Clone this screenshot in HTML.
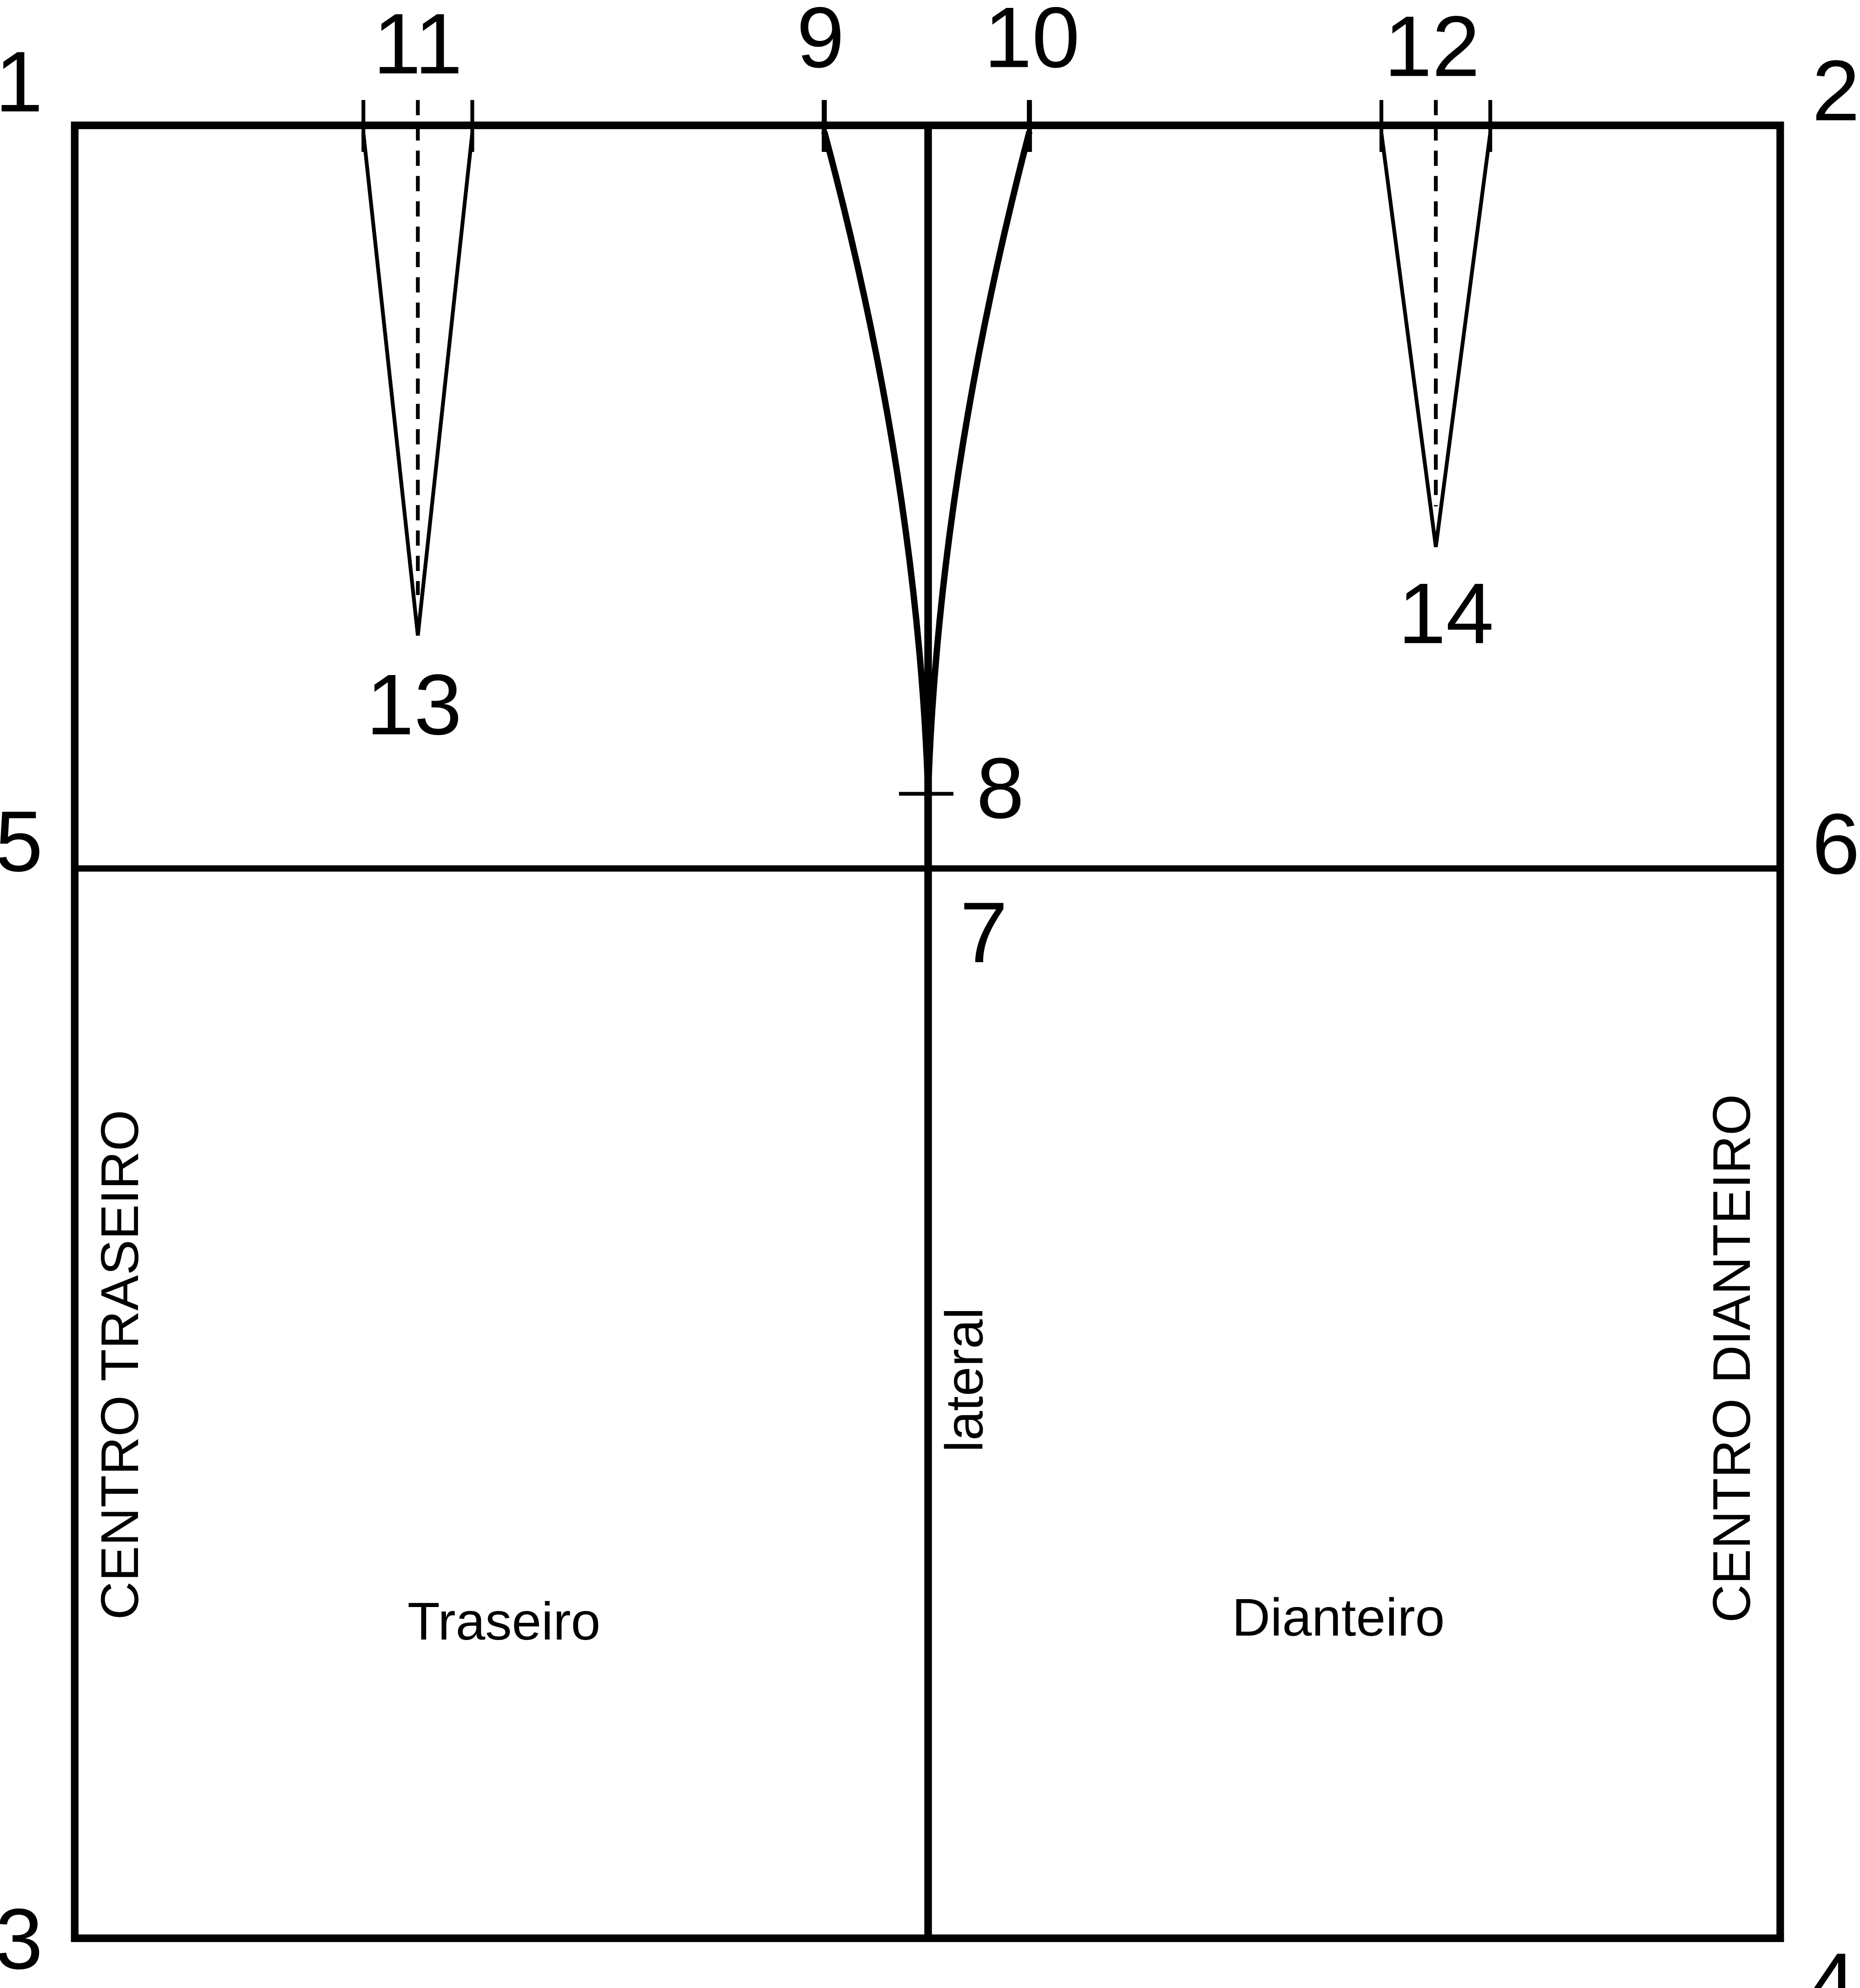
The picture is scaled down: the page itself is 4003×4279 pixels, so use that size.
<!DOCTYPE html>
<html><head><meta charset="utf-8"><style>html,body{margin:0;padding:0;background:#fff}svg{display:block}text{font-family:"Liberation Sans","DejaVu Sans",sans-serif;fill:#000}</style></head>
<body>
<svg width="4003" height="4279" viewBox="0 0 1469 1570.3" xmlns="http://www.w3.org/2000/svg">
<rect x="59" y="99" width="1347" height="1432" fill="none" stroke="#000" stroke-width="6"/>
<line x1="733" y1="99" x2="733" y2="1531" stroke="#000" stroke-width="6"/>
<line x1="59" y1="686" x2="1406" y2="686" stroke="#000" stroke-width="5"/>
<g stroke="#000" fill="none">
<line x1="287" y1="79" x2="287" y2="120" stroke-width="3"/><line x1="373" y1="79" x2="373" y2="120" stroke-width="3"/>
<polyline points="287,105 330,502 373,105" stroke-width="3"/>
<line x1="330" y1="79" x2="330" y2="470" stroke-width="3" stroke-dasharray="12,8"/>
</g>
<g stroke="#000" fill="none">
<line x1="1091" y1="79" x2="1091" y2="120" stroke-width="3"/><line x1="1177" y1="79" x2="1177" y2="120" stroke-width="3"/>
<polyline points="1091,105 1134,432 1177,105" stroke-width="3"/>
<line x1="1134" y1="79" x2="1134" y2="400" stroke-width="3" stroke-dasharray="12,8"/>
</g>
<g stroke="#000" fill="none" stroke-width="5">
<line x1="651" y1="79" x2="651" y2="120" stroke-width="4"/><line x1="813" y1="79" x2="813" y2="120" stroke-width="4"/>
<path d="M651,104 Q725,380 733,627"/><path d="M813,104 Q741,380 733,627"/>
<line x1="710" y1="627" x2="753" y2="627" stroke-width="3"/>
</g>
<g font-size="68">
<text x="15" y="88" text-anchor="middle">1</text>
<text x="330" y="58" text-anchor="middle">11</text>
<text x="648" y="53" text-anchor="middle">9</text>
<text x="815" y="53" text-anchor="middle">10</text>
<text x="1131" y="60" text-anchor="middle">12</text>
<text x="1450" y="95" text-anchor="middle">2</text>
<text x="327" y="580" text-anchor="middle">13</text>
<text x="1142" y="508" text-anchor="middle">14</text>
<text x="790" y="646" text-anchor="middle">8</text>
<text x="15" y="688" text-anchor="middle">5</text>
<text x="1450" y="690" text-anchor="middle">6</text>
<text x="777" y="760" text-anchor="middle">7</text>
<text x="15" y="1555" text-anchor="middle">3</text>
<text x="1447" y="1590" text-anchor="middle">4</text>
</g>
<text font-size="42" text-anchor="middle" transform="translate(109,1078) rotate(-90)">CENTRO TRASEIRO</text>
<text font-size="42" text-anchor="middle" transform="translate(776,1090) rotate(-90)">lateral</text>
<text font-size="42" text-anchor="middle" transform="translate(1382,1073) rotate(-90)">CENTRO DIANTEIRO</text>
<text font-size="42" x="398" y="1295" text-anchor="middle">Traseiro</text>
<text font-size="42" x="1057" y="1292" text-anchor="middle">Dianteiro</text>
</svg>
</body></html>
